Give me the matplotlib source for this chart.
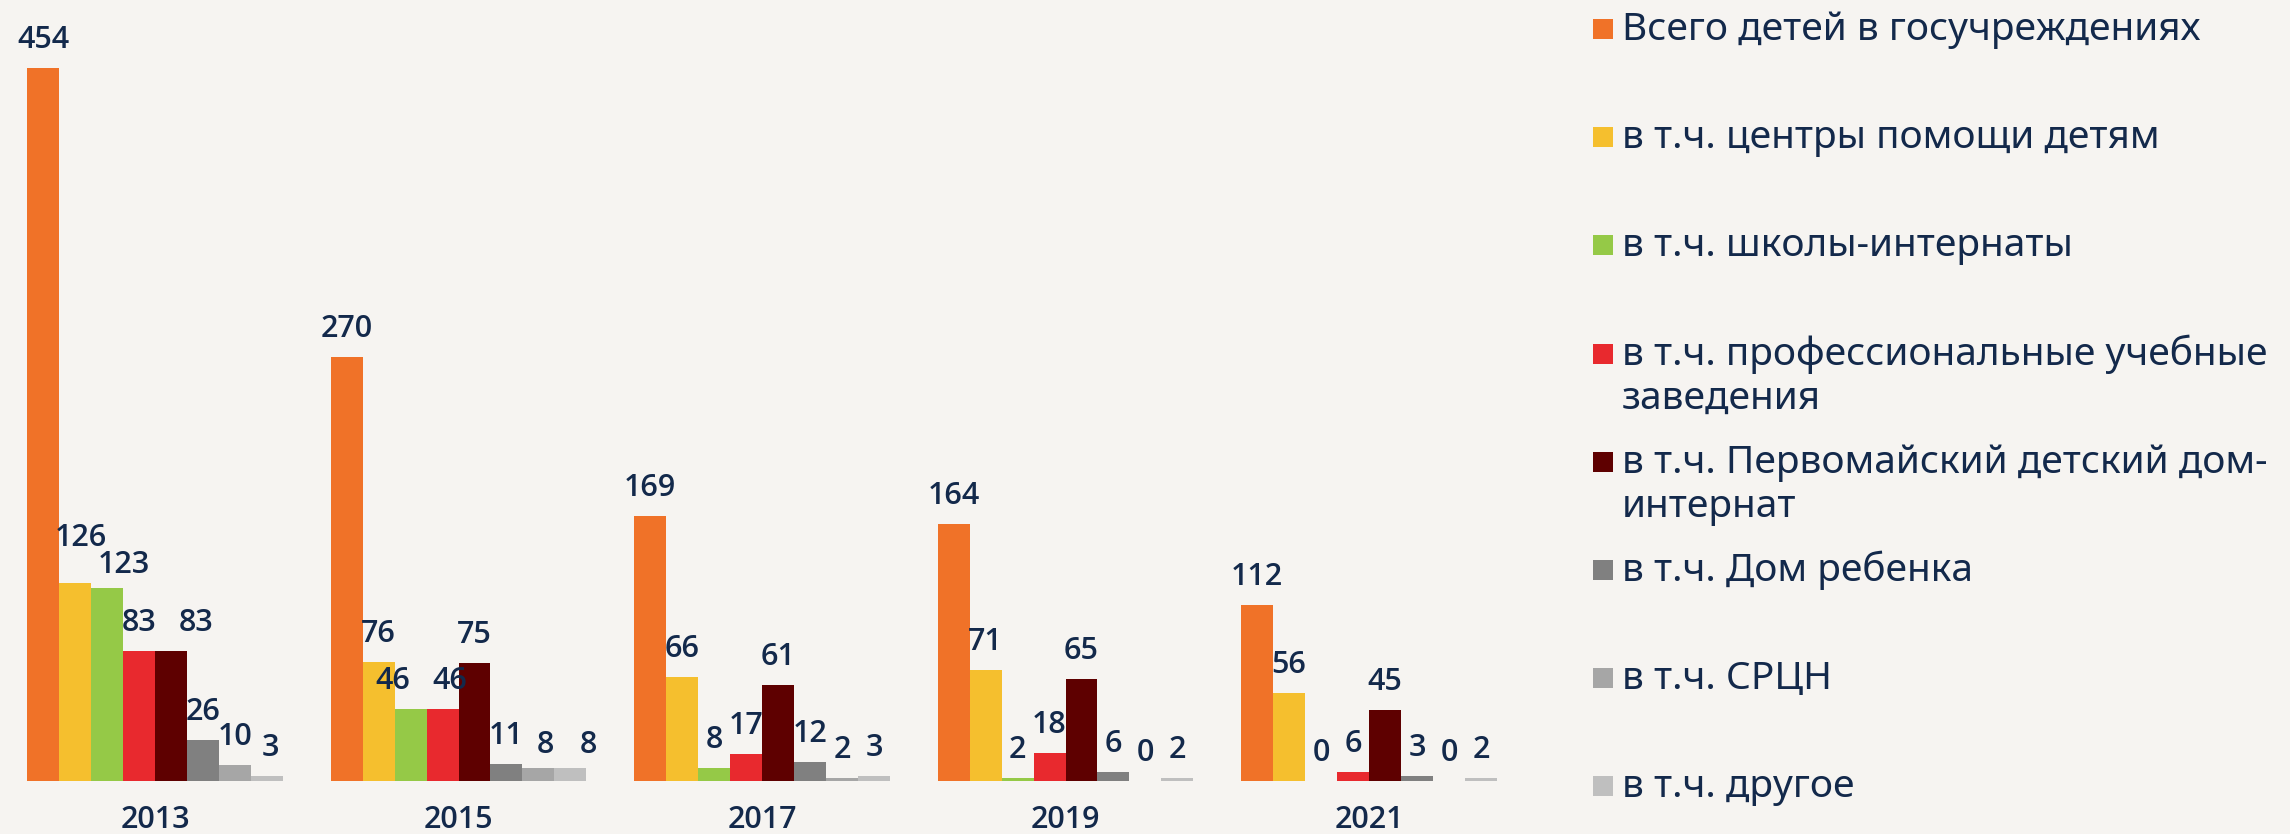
import numpy as np
import matplotlib
matplotlib.use("Agg")
import matplotlib.pyplot as plt
from matplotlib.patches import Rectangle

# data
years = ['2013', '2015', '2017', '2019', '2021']
total = [454, 270, 169, 164, 112]
help_centers = [126, 76, 66, 71, 56]
boarding_schools = [123, 46, 8, 2, 0]
prof_schools = [83, 46, 17, 18, 6]
pervomaysky = [83, 75, 61, 65, 45]
baby_home = [26, 11, 12, 6, 3]
srcn = [10, 8, 2, 0, 0]
other = [3, 8, 3, 2, 2]

series_labels = [
    'Всего детей в госучреждениях',
    'в т.ч. центры помощи детям',
    'в т.ч. школы-интернаты',
    'в т.ч. профессиональные учебные\nзаведения',
    'в т.ч. Первомайский детский дом-\nинтернат',
    'в т.ч. Дом ребенка',
    'в т.ч. СРЦН',
    'в т.ч. другое',
]
colors = ['#f07228', '#f5bf2e', '#95c947', '#e8292e', '#5e0000',
          '#808080', '#a6a6a6', '#bfbfbf']

series = [total, help_centers, boarding_schools, prof_schools,
          pervomaysky, baby_home, srcn, other]

# manual nudges (pixels) for labels that would collide, as in the original
label_nudge = {(1, 0): (6, 17), (2, 0): (17, -5), (4, 0): (25, 0), (7, 0): (3, 0),
               (2, 1): (-18, 0), (3, 1): (7, 0), (6, 1): (7, -5), (7, 1): (18, -5)}

bg = '#f6f4f1'
navy = '#13294b'
W, H = 2290, 834

fig = plt.figure(figsize=(W / 100, H / 100), dpi=100, facecolor=bg)
ax = fig.add_axes([0, (H - 781) / H, 1540 / W, 781 / H])
ax.set_facecolor('none')

x = np.arange(len(years))
bw = 0.1054
for i, (vals, col) in enumerate(zip(series, colors)):
    pos = x + (i - 3.5) * bw
    ax.bar(pos, vals, width=bw, color=col, edgecolor='none')
    for j, (px, v) in enumerate(zip(pos, vals)):
        dx, dy = label_nudge.get((i, j), (0, 0))
        ax.annotate(str(v), (px, v), xytext=(dx, 20 + dy),
                    textcoords='offset pixels', ha='center', va='baseline',
                    fontsize=22, fontfamily='Open Sans', fontweight='semibold',
                    color=navy)

ax.set_xlim(-0.5107, 4.5634)
ax.set_ylim(0, 497.5)
ax.set_xticks(x)
ax.set_xticklabels(years, fontsize=22, fontfamily='Open Sans',
                   fontweight='semibold', color=navy)
ax.tick_params(axis='x', length=0, pad=17)
ax.set_yticks([])
for s in ax.spines.values():
    s.set_visible(False)

# legend drawn by hand: evenly spaced rows, wrapped entries keep the spacing
for k, (lab, col) in enumerate(zip(series_labels, colors)):
    cy = 29 + k * 108.2
    fig.add_artist(Rectangle((1593 / W, 1 - (cy + 10) / H), 20 / W, 20 / H,
                             transform=fig.transFigure, color=col, lw=0))
    for m, line in enumerate(lab.split('\n')):
        fig.text(1622 / W, 1 - (cy + 11 + m * 44) / H, line, ha='left',
                 va='baseline', fontsize=28, fontfamily='Noto Sans',
                 fontweight='semibold', color=navy)

fig.savefig('out.png', dpi=100, facecolor=bg)
